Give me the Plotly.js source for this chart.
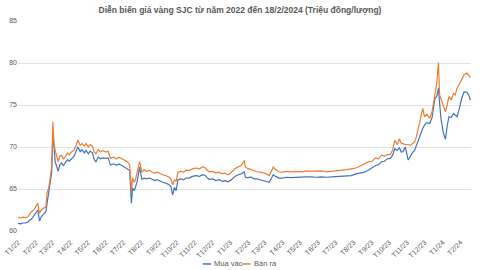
<!DOCTYPE html>
<html><head><meta charset="utf-8">
<script src="https://cdn.plot.ly/plotly-3.0.1.min.js"></script>
<style>html,body{margin:0;padding:0;background:#fff}#c{width:480px;height:270px}</style>
</head><body><div id="c"></div>
<script>
const dates = [
"2022-01-01","2022-01-05","2022-01-10","2022-01-14","2022-01-18","2022-01-21","2022-01-24","2022-01-28","2022-02-01","2022-02-04",
"2022-02-07","2022-02-10","2022-02-14","2022-02-18","2022-02-20","2022-02-23","2022-02-25","2022-02-28","2022-03-02","2022-03-04",
"2022-03-06","2022-03-09","2022-03-11","2022-03-14","2022-03-17","2022-03-20","2022-03-23","2022-03-27","2022-03-30","2022-04-03",
"2022-04-07","2022-04-11","2022-04-14","2022-04-18","2022-04-21","2022-04-25","2022-04-28","2022-05-02","2022-05-05","2022-05-09",
"2022-05-12","2022-05-15","2022-05-19","2022-05-23","2022-05-27","2022-06-01","2022-06-05","2022-06-09","2022-06-14","2022-06-19",
"2022-06-24","2022-06-29","2022-07-04","2022-07-08","2022-07-12","2022-07-15","2022-07-17","2022-07-20","2022-07-22","2022-07-25",
"2022-07-29","2022-08-02","2022-08-06","2022-08-10","2022-08-15","2022-08-20","2022-08-24","2022-08-28","2022-09-02","2022-09-07",
"2022-09-12","2022-09-18","2022-09-21","2022-09-24","2022-09-27","2022-09-30","2022-10-03","2022-10-08","2022-10-13","2022-10-17",
"2022-10-22","2022-10-28","2022-11-03","2022-11-09","2022-11-15","2022-11-19","2022-11-23","2022-11-26","2022-12-02","2022-12-07",
"2022-12-13","2022-12-18","2022-12-23","2022-12-28","2023-01-03","2023-01-09","2023-01-15","2023-01-20","2023-01-25","2023-01-27",
"2023-01-31","2023-02-06","2023-02-11","2023-02-16","2023-02-21","2023-02-26","2023-03-03","2023-03-09","2023-03-13","2023-03-16",
"2023-03-20","2023-03-26","2023-04-01","2023-04-08","2023-04-15","2023-04-24","2023-05-03","2023-05-12","2023-05-20","2023-05-29",
"2023-06-07","2023-06-16","2023-06-25","2023-07-04","2023-07-12","2023-07-20","2023-07-28","2023-08-05","2023-08-12","2023-08-20",
"2023-08-27","2023-09-02","2023-09-08","2023-09-13","2023-09-18","2023-09-23","2023-09-28","2023-10-03","2023-10-07","2023-10-11",
"2023-10-15","2023-10-19","2023-10-22","2023-10-25","2023-10-29","2023-11-03","2023-11-07","2023-11-10","2023-11-14","2023-11-17",
"2023-11-20","2023-11-23","2023-11-28","2023-12-01","2023-12-05","2023-12-10","2023-12-14","2023-12-19","2023-12-22","2023-12-25",
"2023-12-27","2023-12-29","2024-01-02","2024-01-06","2024-01-09","2024-01-12","2024-01-16","2024-01-20","2024-01-23","2024-01-26",
"2024-01-30","2024-02-03","2024-02-07","2024-02-12","2024-02-15","2024-02-18"];
const banRa = [
61.6,61.55,61.65,61.6,61.7,62.0,62.3,62.5,62.9,63.3,
62.1,62.5,62.7,62.9,64.5,65.2,66.1,67.7,73.0,70.3,
69.6,68.6,68.25,68.9,69.0,68.6,68.8,69.3,69.1,69.4,
69.6,70.2,70.8,70.2,70.4,70.1,70.4,70.0,70.3,70.1,
69.4,69.2,69.7,69.4,69.6,69.4,69.5,68.65,68.8,68.6,
68.75,68.6,68.4,68.25,67.9,64.7,66.3,65.8,66.1,66.9,
68.25,67.05,67.3,67.1,67.2,67.0,66.9,67.0,66.8,66.7,
66.6,66.4,66.2,65.5,66.1,65.9,67.0,67.1,67.0,67.25,
67.2,67.4,67.5,67.4,67.65,67.5,67.2,67.05,67.1,66.9,
67.0,66.8,66.9,66.7,67.0,67.4,67.65,67.8,68.4,67.6,
67.45,67.3,67.1,67.05,67.0,66.9,66.85,66.6,67.1,67.6,
67.3,67.05,67.0,67.1,67.05,67.1,67.05,67.15,67.1,67.1,
67.15,67.05,67.1,67.2,67.25,67.3,67.4,67.5,67.7,67.95,
68.25,68.3,68.7,68.6,69.05,68.9,69.1,69.1,69.6,70.8,
70.3,71.0,70.4,70.4,70.3,70.3,70.2,70.4,70.6,71.2,
72.0,73.0,74.6,73.6,73.9,73.4,74.2,76.55,77.5,80.05,
76.2,75.8,75.0,74.2,75.0,76.0,75.6,76.4,76.2,77.0,
77.5,78.1,78.6,78.8,78.5,78.25];
const muaVao = [
60.9,60.85,60.95,60.95,61.05,61.3,61.4,61.8,62.2,62.5,
61.2,61.7,62.0,62.3,63.3,64.6,65.5,67.0,71.7,69.3,
68.2,67.6,67.1,67.9,68.1,67.8,68.05,68.5,68.3,68.6,
68.85,69.5,70.0,69.45,69.7,69.3,69.6,69.2,69.5,69.3,
68.5,68.25,68.8,68.6,68.7,68.65,68.7,67.85,68.0,67.85,
67.95,67.8,67.6,67.45,67.2,63.3,65.1,64.8,65.2,65.9,
67.6,66.15,66.3,66.2,66.3,66.1,66.0,66.1,65.9,65.8,
65.7,65.5,65.3,64.3,65.2,64.8,66.1,66.2,66.1,66.3,
66.3,66.5,66.6,66.5,66.7,66.6,66.3,66.15,66.2,66.0,
66.1,65.9,66.0,65.85,66.1,66.5,66.7,66.8,67.05,66.4,
66.35,66.4,66.2,66.2,66.1,66.0,65.95,65.8,66.3,66.7,
66.5,66.3,66.3,66.4,66.35,66.4,66.4,66.45,66.45,66.4,
66.45,66.4,66.45,66.5,66.5,66.55,66.6,66.8,66.9,67.0,
67.25,67.5,67.8,67.9,68.25,68.3,68.6,68.65,69.0,69.8,
69.6,69.9,69.4,69.45,70.0,68.45,69.0,69.3,69.6,70.2,
70.8,71.2,72.2,72.6,72.9,72.8,73.5,75.8,76.0,77.0,
74.5,73.6,71.8,70.9,72.5,73.6,73.5,74.0,73.8,73.6,
74.6,75.8,76.55,76.5,76.2,75.6];
const tickDates = ["2022-01-01","2022-02-01","2022-03-01","2022-04-01","2022-05-01","2022-06-01","2022-07-01","2022-08-01","2022-09-01","2022-10-01","2022-11-01","2022-12-01","2023-01-01","2023-02-01","2023-03-01","2023-04-01","2023-05-01","2023-06-01","2023-07-01","2023-08-01","2023-09-01","2023-10-01","2023-11-01","2023-12-01","2024-01-01","2024-02-01"];
const tickLabels = ["T1/22","T2/22","T3/22","T4/22","T5/22","T6/22","T7/22","T8/22","T9/22","T10/22","T11/22","T12/22","T1/23","T2/23","T3/23","T4/23","T5/23","T6/23","T7/23","T8/23","T9/23","T10/23","T11/23","T12/23","T1/24","T2/24"];
const seriesNames = ["Mua vào","Bán ra"];
const seriesColors = ["#4472C4","#ED7D31"];

const traces = [
  {x: dates, y: muaVao, name: seriesNames[0], type: "scatter", mode: "lines", line: {color: seriesColors[0], width: 1.2}},
  {x: dates, y: banRa, name: seriesNames[1], type: "scatter", mode: "lines", line: {color: seriesColors[1], width: 1.2}}
];
const font = "Liberation Sans, Arial, sans-serif";
// manual legend (paper coordinates, below the plot area)
const legY = -0.157;
const legItems = [{x0: 0.408, x1: 0.426}, {x0: 0.497, x1: 0.513}];
const shapes = legItems.map((it, i) => ({type: "line", xref: "paper", yref: "paper", x0: it.x0, x1: it.x1, y0: legY, y1: legY, line: {color: seriesColors[i], width: 1.5}}));
const annotations = legItems.map((it, i) => ({xref: "paper", yref: "paper", x: it.x1 + 0.003, y: legY, xanchor: "left", yanchor: "middle", showarrow: false, text: seriesNames[i], font: {family: font, size: 7.5, color: "#595959"}}));
const layout = {
  width: 480, height: 270,
  margin: {l: 18, r: 9, t: 21, b: 39},
  paper_bgcolor: "#fff", plot_bgcolor: "#fff",
  title: {text: "<b>Diễn biến giá vàng SJC từ năm 2022 đến 18/2/2024 (Triệu đồng/lượng)</b>", x: 0.5, xanchor: "center", y: 0.963, yanchor: "middle", font: {family: font, size: 8.5, color: "#595959"}},
  xaxis: {type: "date", range: ["2022-01-01", "2024-02-19"], tickvals: tickDates, ticktext: tickLabels, tickangle: -45, ticklabelstandoff: 5, tickfont: {family: font, size: 7, color: "#595959"}, showgrid: false, showline: false, zeroline: false, ticks: "", automargin: false},
  yaxis: {range: [60, 85], dtick: 5, tickfont: {family: font, size: 7, color: "#595959"}, gridcolor: "#e3e3e3", gridwidth: 1, zeroline: false, showline: false, ticks: "", automargin: false},
  showlegend: false,
  shapes: shapes,
  annotations: annotations
};
Plotly.newPlot("c", traces, layout, {staticPlot: true, displayModeBar: false});
</script></body></html>
